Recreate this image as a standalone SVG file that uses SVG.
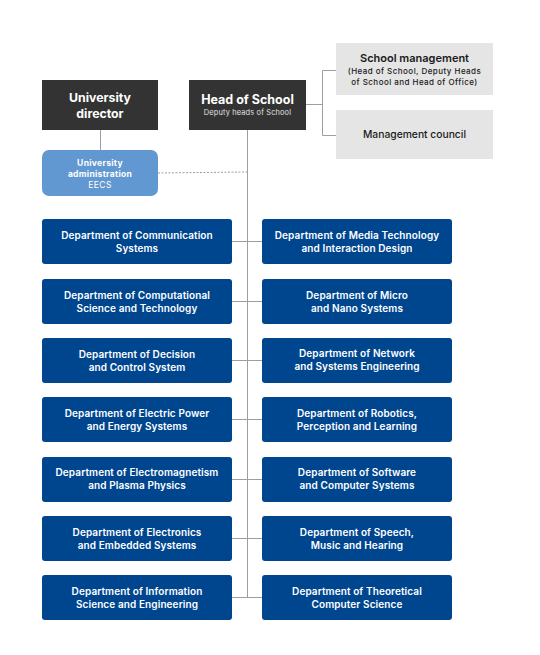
<svg xmlns="http://www.w3.org/2000/svg" width="540" height="655" viewBox="0 0 540 655">
<style>
text{font-family:Inter,"Open Sans","Liberation Sans",sans-serif;text-anchor:middle}
.dept rect{fill:#00468f}
.dept text{fill:#fff;font-size:10px;font-weight:600;letter-spacing:0.1px}
.dark{fill:#333333}
.gray{fill:#e5e5e5}
.ln{stroke:#9e9e9e;stroke-width:1;fill:none}
.wt{fill:#fff}
.bk{fill:#1a1a1a}
</style>
<rect width="540" height="655" fill="#fff"/>
<g id="connectors">
<line class="ln" x1="247.5" y1="130" x2="247.5" y2="598"/>
<line class="ln" x1="100.5" y1="130" x2="100.5" y2="150"/>
<path class="ln" d="M158 173 L247 172" stroke-dasharray="2,1.5" stroke="#aaa"/>
<path class="ln" d="M306 104.5 H322.5 M322.5 70.5 V135.5 M322.5 70.5 H336 M322.5 135.5 H336"/>
<path class="ln" d="M232 241.5 H262 M232 301.5 H262 M232 360.5 H262 M232 419.5 H262 M232 479.5 H262 M232 538.5 H262 M232 597.5 H262"/>
</g>
<g id="university-director">
<rect class="dark" x="42" y="80" width="116" height="50"/>
<text class="wt" x="100" y="102" font-size="12.3" font-weight="700">University</text>
<text class="wt" x="100" y="118" font-size="12.3" font-weight="700">director</text>
</g>
<g id="head-of-school">
<rect class="dark" x="189" y="80" width="117" height="50"/>
<text class="wt" x="247.5" y="104" font-size="12.5" font-weight="700">Head of School</text>
<text x="247.5" y="115" font-size="7.4" letter-spacing="0.15" fill="#e0e0e0">Deputy heads of School</text>
</g>
<g id="university-administration">
<rect x="42" y="150" width="116" height="46" rx="7" fill="#6298d1"/>
<text class="wt" x="100" y="165.5" font-size="8.5" font-weight="700" letter-spacing="0.3">University</text>
<text class="wt" x="100" y="176.5" font-size="8.5" font-weight="700" letter-spacing="0.3">administration</text>
<text class="wt" x="100" y="187.5" font-size="8.5" letter-spacing="0.4">EECS</text>
</g>
<g id="school-management">
<rect class="gray" x="336" y="43" width="157" height="52"/>
<text class="bk" x="414.5" y="62" font-size="11" font-weight="600">School management</text>
<text class="bk" x="414.5" y="74" font-size="8" font-weight="500" letter-spacing="0.45">(Head of School, Deputy Heads</text>
<text class="bk" x="414.5" y="85" font-size="8" font-weight="500" letter-spacing="0.45">of School and Head of Office)</text>
</g>
<g id="management-council">
<rect class="gray" x="336" y="110" width="157" height="49"/>
<text class="bk" x="414.5" y="138" font-size="10.3" font-weight="500">Management council</text>
</g>
<g id="dept-communication" class="dept"><rect x="42" y="219" width="190" height="45" rx="3"/><text x="137" y="239">Department of Communication</text><text x="137" y="252">Systems</text></g>
<g id="dept-media" class="dept"><rect x="262" y="219" width="190" height="45" rx="3"/><text x="357" y="239">Department of Media Technology</text><text x="357" y="252">and Interaction Design</text></g>
<g id="dept-computational" class="dept"><rect x="42" y="279" width="190" height="45" rx="3"/><text x="137" y="299">Department of Computational</text><text x="137" y="312">Science and Technology</text></g>
<g id="dept-micro" class="dept"><rect x="262" y="279" width="190" height="45" rx="3"/><text x="357" y="299">Department of Micro</text><text x="357" y="312">and Nano Systems</text></g>
<g id="dept-decision" class="dept"><rect x="42" y="338" width="190" height="45" rx="3"/><text x="137" y="358">Department of Decision</text><text x="137" y="371">and Control System</text></g>
<g id="dept-network" class="dept"><rect x="262" y="338" width="190" height="45" rx="3"/><text x="357" y="357">Department of Network</text><text x="357" y="369.5">and Systems Engineering</text></g>
<g id="dept-electric" class="dept"><rect x="42" y="397" width="190" height="45" rx="3"/><text x="137" y="417">Department of Electric Power</text><text x="137" y="430">and Energy Systems</text></g>
<g id="dept-robotics" class="dept"><rect x="262" y="397" width="190" height="45" rx="3"/><text x="357" y="417">Department of Robotics,</text><text x="357" y="430">Perception and Learning</text></g>
<g id="dept-electromagnetism" class="dept"><rect x="42" y="457" width="190" height="45" rx="3"/><text x="137" y="476">Department of Electromagnetism</text><text x="137" y="489">and Plasma Physics</text></g>
<g id="dept-software" class="dept"><rect x="262" y="457" width="190" height="45" rx="3"/><text x="357" y="476">Department of Software</text><text x="357" y="489">and Computer Systems</text></g>
<g id="dept-electronics" class="dept"><rect x="42" y="516" width="190" height="45" rx="3"/><text x="137" y="536">Department of Electronics</text><text x="137" y="549">and Embedded Systems</text></g>
<g id="dept-speech" class="dept"><rect x="262" y="516" width="190" height="45" rx="3"/><text x="357" y="536">Department of Speech,</text><text x="357" y="549">Music and Hearing</text></g>
<g id="dept-information" class="dept"><rect x="42" y="575" width="190" height="45" rx="3"/><text x="137" y="595">Department of Information</text><text x="137" y="608">Science and Engineering</text></g>
<g id="dept-theoretical" class="dept"><rect x="262" y="575" width="190" height="45" rx="3"/><text x="357" y="595">Department of Theoretical</text><text x="357" y="608">Computer Science</text></g>
</svg>
